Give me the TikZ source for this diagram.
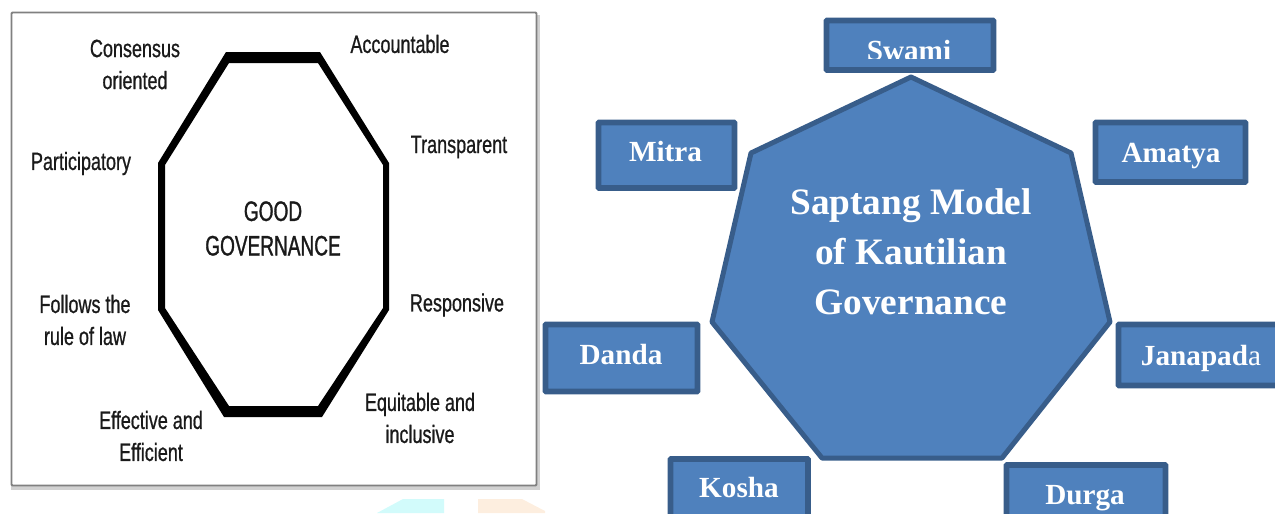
\documentclass[tikz,border=0pt]{standalone}
\usepackage{fontspec}
\setmainfont{Liberation Serif}
\newfontfamily\narrowlabel[FakeStretch=0.72,FakeBold=0.7]{Liberation Sans}
\newfontfamily\narrowhead[FakeStretch=0.68,FakeBold=1.1]{Liberation Sans}
\definecolor{boxfill}{HTML}{4F81BD}
\definecolor{boxline}{HTML}{385D8A}
\definecolor{inkdark}{HTML}{1A1A1A}
\definecolor{paleCyan}{HTML}{D2FBFB}
\definecolor{paleOrange}{HTML}{FDEEDF}
\tikzset{
  px/.style={x=1pt,y=-1pt},
  sidebox/.style={fill=boxfill,draw=boxline,line width=5.8pt,rounded corners=0.8pt},
  boxlabel/.style={text=white,font=\fontsize{29.2}{30}\selectfont\bfseries,inner sep=0pt,anchor=base},
  titlelabel/.style={text=white,font=\fontsize{37.3}{50}\selectfont\bfseries,align=center,inner sep=0pt},
  govlabel/.style={text=inkdark,font=\narrowlabel\fontsize{25}{32}\selectfont,align=center,inner sep=0pt},
  govcenter/.style={text=inkdark,font=\narrowhead\fontsize{28}{34.5}\selectfont,align=center,inner sep=0pt}
}
\begin{document}
\begin{tikzpicture}[px]
\useasboundingbox (0,0) rectangle (1275,514);
\clip (0,0) rectangle (1275,514);
% faint shapes at the bottom
\fill[paleCyan] (377,513) -- (403,499) -- (444,499) -- (444,513) -- cycle;
\fill[paleOrange] (478,499) -- (522,499) -- (545,511) -- (545,513) -- (478,513) -- cycle;
% left panel
\draw[draw=black!18,line width=4pt] (13,17) -- (13,488) -- (538,488) -- (538,15);
\draw[draw=black!50,fill=white,line width=1.8pt,rounded corners=1pt] (11.5,12.5) rectangle (536.5,485.5);
\fill[black,even odd rule]
  (226,52) -- (320,52) -- (389,163) -- (389,310) -- (322,417) -- (224,417) -- (158,310) -- (158,163) -- cycle
  (229,63) -- (318,63) -- (383,165) -- (383,308) -- (318,406) -- (229,406) -- (165,308) -- (165,165) -- cycle;
\node[govcenter] (good) at (273,228.5) {GOOD\\GOVERNANCE};
\node[govlabel] (consensus) at (135,64.5) {Consensus\\oriented};
\node[govlabel] (accountable) at (400,44) {Accountable};
\node[govlabel] (transparent) at (459,147) {Transparent};
\node[govlabel] (participatory) at (81,163.5) {Participatory};
\node[govlabel] (responsive) at (457,305) {Responsive};
\node[govlabel] (rule) at (85,320) {Follows the\\rule of law};
\node[govlabel] (equitable) at (420,418) {Equitable and\\inclusive};
\node[govlabel] (effective) at (151,436) {Effective and\\Efficient};
% right panel
\draw[sidebox] (826.5,20.5) rectangle (993.5,70);
\draw[sidebox] (1095.5,122.5) rectangle (1245.5,182);
\draw[sidebox] (598.5,122.5) rectangle (734.5,188);
\draw[sidebox] (545.5,324.5) rectangle (697.5,391.5);
\draw[sidebox] (1118.5,324.5) rectangle (1290,385.5);
\draw[sidebox] (670.5,459) rectangle (808,530);
\draw[sidebox] (1006.5,465) rectangle (1165.5,530);
\begin{scope}
  \clip (824,18) rectangle (996,58);
  \node[boxlabel] (swami) at (909,60.5) {Swami};
\end{scope}
\node[boxlabel] (amatya) at (1171,162) {Amatya};
\node[boxlabel] (mitra) at (665.5,161) {Mitra};
\node[boxlabel] (danda) at (621,364) {Danda};
\node[boxlabel] (janapada) at (1201,365) {Janapad{\mdseries a}};
\node[boxlabel] (kosha) at (739,497) {Kosha};
\node[boxlabel] (durga) at (1085,504) {Durga};
\draw[fill=boxfill,draw=boxline,line width=5pt,line join=round]
  (911,77) -- (1071,153) -- (1110,322) -- (1002,458) -- (822,458) -- (712,322) -- (751,153) -- cycle;
\node[titlelabel] (title) at (911,252) {Saptang Model\\of Kautilian\\Governance};
\end{tikzpicture}
\end{document}
